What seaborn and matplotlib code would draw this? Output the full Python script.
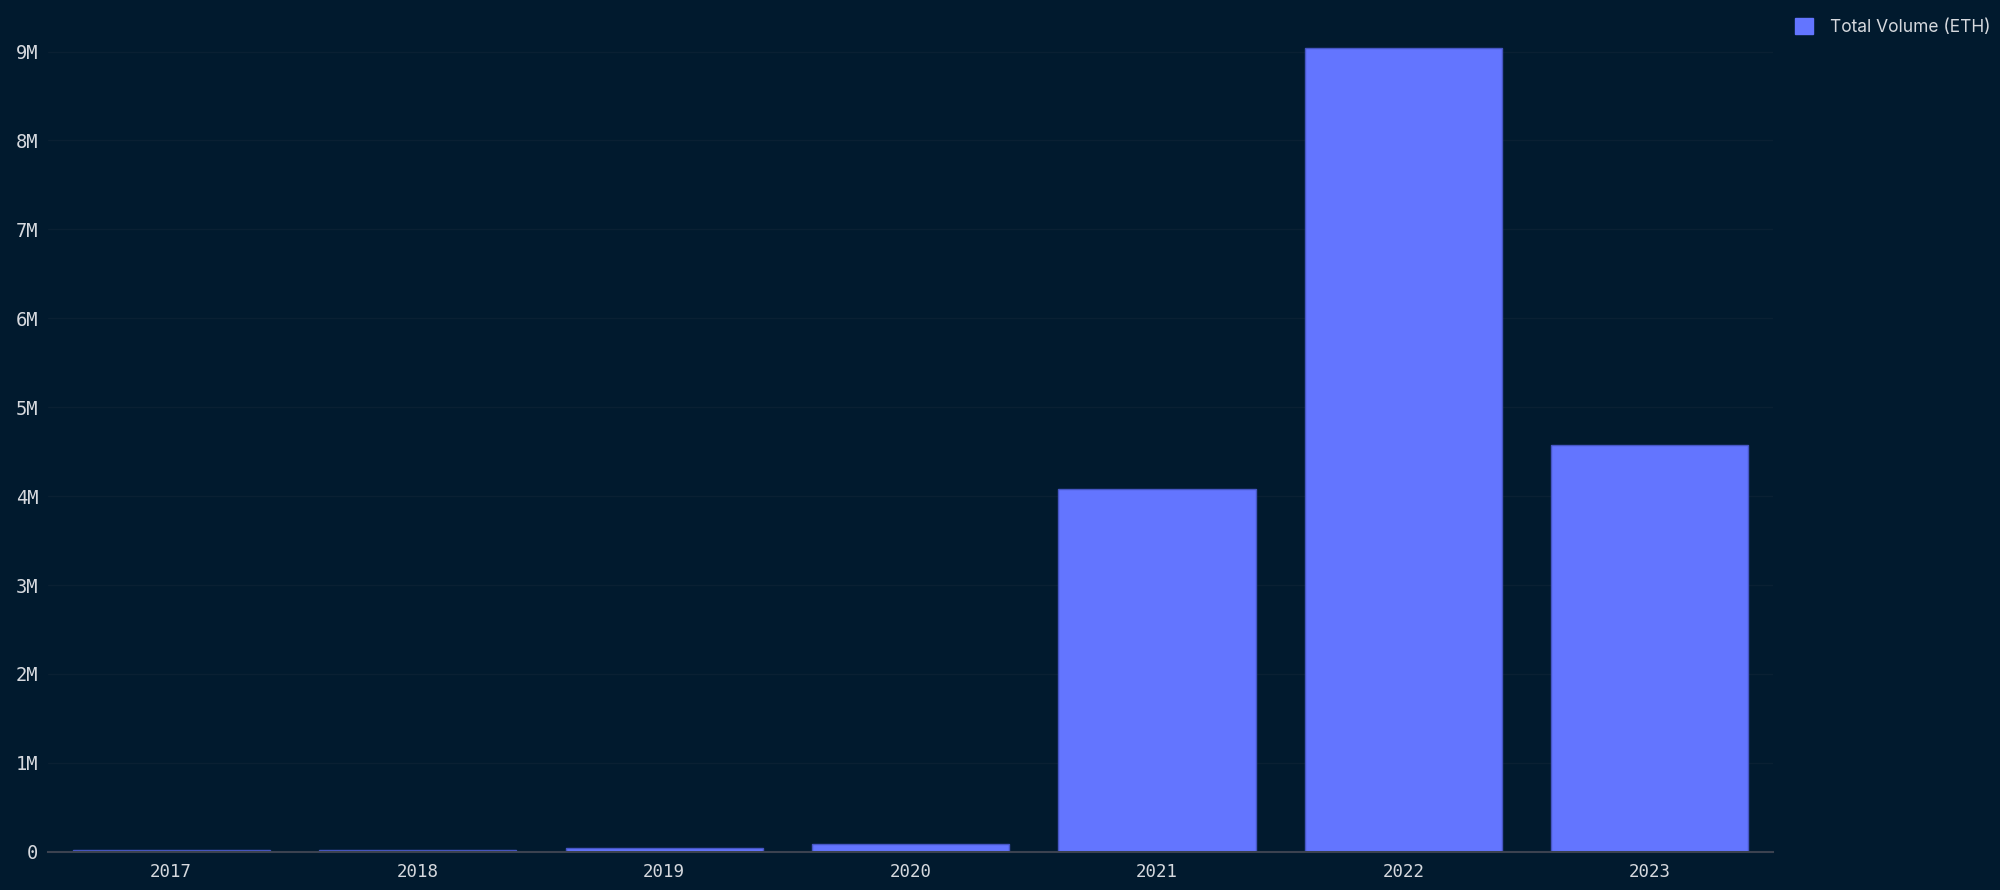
import pandas as pd
import seaborn as sns
import matplotlib.pyplot as plt
from matplotlib.ticker import FuncFormatter
from matplotlib.patches import Patch

# yearly volume
years = ['2017', '2018', '2019', '2020', '2021', '2022', '2023']
volume_eth = [18000, 16000, 40000, 88000, 4080000, 9045000, 4580000]

BG = '#011a2e'
BAR = '#6375ff'

df = pd.DataFrame({'year': years, 'volume': volume_eth})

sns.set_style('dark')
plt.rcParams['font.family'] = ['DejaVu Sans Mono']

fig = plt.figure(figsize=(20, 8.9), dpi=100, facecolor=BG)
ax = fig.add_axes([0.024, 0.043, 0.8625, 0.937])
ax.set_facecolor(BG)

sns.barplot(data=df, x='year', y='volume', color=BAR, width=0.8,
            edgecolor='#4656c4', linewidth=1, saturation=1, ax=ax)

ax.set_ylim(0, 9.38e6)
ax.set_yticks([i * 1e6 for i in range(10)])
ax.yaxis.set_major_formatter(FuncFormatter(lambda v, _: '0' if v == 0 else f'{v/1e6:.0f}M'))
ax.grid(axis='y', color='#0a2033', linewidth=1)
ax.grid(axis='x', visible=False)
ax.set_axisbelow(True)

for side in ['top', 'right', 'left']:
    ax.spines[side].set_visible(False)
ax.spines['bottom'].set_color('#3b4250')
ax.spines['bottom'].set_linewidth(1.5)

ax.tick_params(axis='x', length=0, colors='#d6d9de', labelsize=12.5, pad=8)
ax.tick_params(axis='y', length=0, colors='#d6d9de', labelsize=13.5, pad=7)
ax.set_xlabel('')
ax.set_ylabel('')

handles = [Patch(facecolor=BAR, edgecolor=BAR, label='Total Volume (ETH)')]
leg = fig.legend(handles=handles, loc='upper left', bbox_to_anchor=(0.8895, 0.997),
                 frameon=False, handlelength=1.05, handleheight=1.05, handletextpad=1.0,
                 prop={'family': 'Inter', 'size': 12.5})
for t in leg.get_texts():
    t.set_color('#d6d9de')

fig.savefig('out.png', dpi=100, facecolor=BG)
